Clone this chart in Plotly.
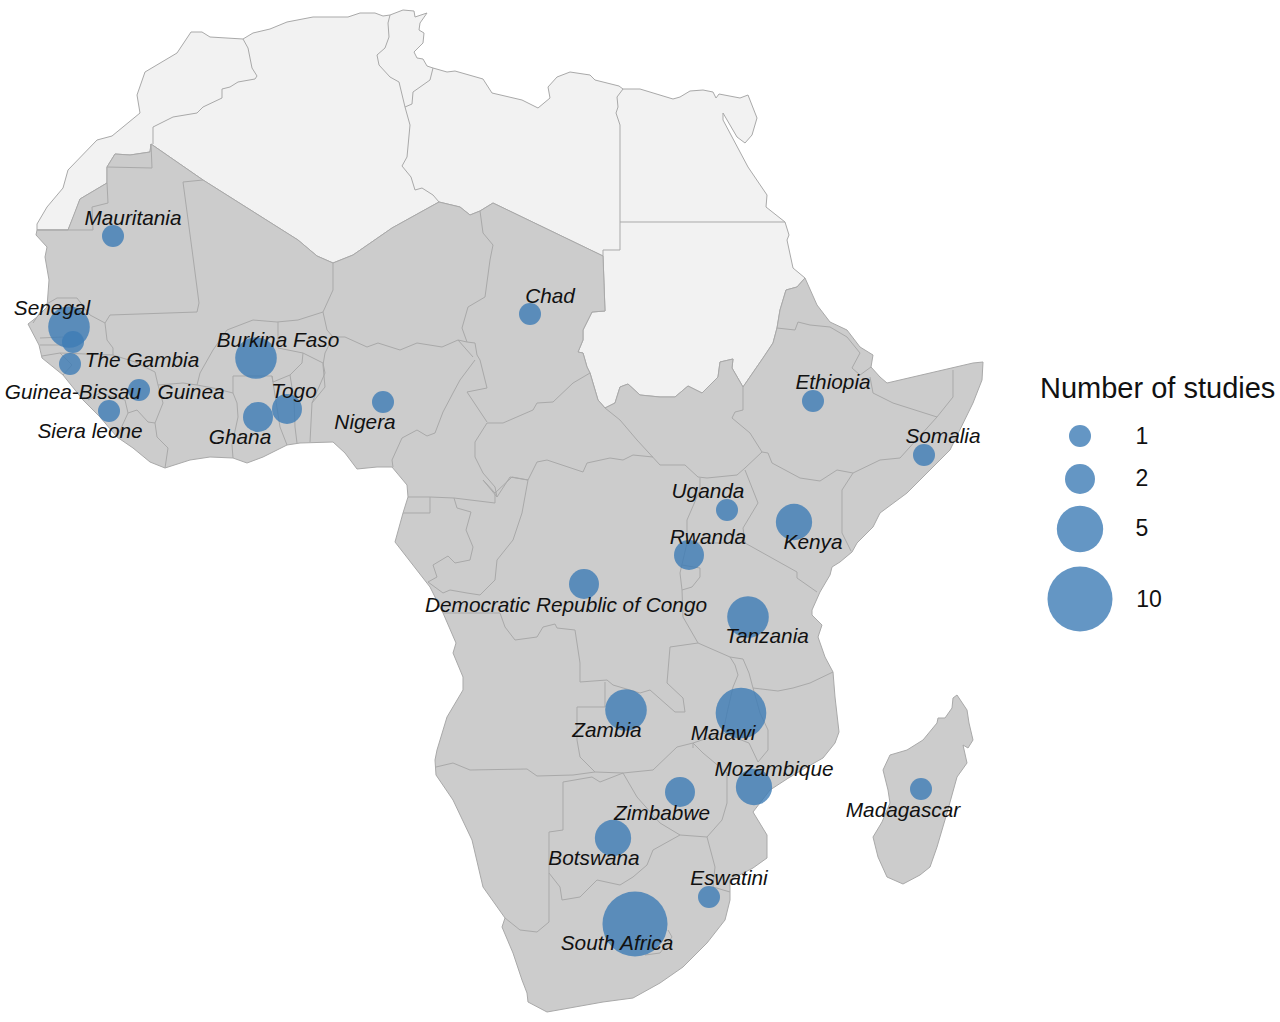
import math
import plotly.graph_objects as go

# === Map outlines (x, y in picture pixels) ===
north_outline = [
    (37, 230), (37, 224), (47, 207), (63, 188), (68, 170), (83, 155), (97, 140), (112, 136), (140, 113), (137, 95),
    (145, 72), (177, 53), (191, 32), (202, 32), (210, 37), (243, 39), (253, 33), (270, 29), (287, 22), (313, 17),
    (340, 17), (348, 17), (360, 13), (375, 13), (383, 16), (390, 15), (403, 10), (414, 11), (415, 17), (427, 13),
    (420, 23), (419, 30), (424, 33), (423, 43), (414, 52), (417, 58), (423, 59), (427, 66), (433, 68), (447, 72),
    (455, 71), (483, 79), (492, 93), (522, 100), (538, 108), (550, 98), (548, 87), (557, 77), (570, 72), (590, 75),
    (595, 80), (619, 86), (623, 89), (640, 89), (673, 99), (680, 97), (690, 91), (703, 90), (713, 92), (716, 98),
    (719, 94), (740, 98), (748, 95), (757, 118), (752, 135), (745, 143), (737, 137), (723, 113), (723, 120),
    (748, 167), (767, 195), (766, 207), (785, 222), (789, 235), (787, 240), (793, 268), (805, 278),
    (797, 287), (786, 290), (780, 310), (777, 328), (773, 343), (763, 358), (748, 380), (743, 387), (732, 368),
    (733, 359), (720, 362), (718, 377), (702, 393), (688, 386), (675, 397), (660, 397), (640, 395), (628, 384),
    (620, 387), (615, 403), (605, 408), (598, 400), (590, 373), (587, 367), (583, 353), (578, 352), (583, 340),
    (583, 330), (592, 312), (605, 311), (603, 256), (493, 203), (480, 211), (470, 215), (460, 207), (439, 202),
    (392, 228), (353, 255), (333, 263), (317, 256), (298, 240), (203, 180), (151, 144), (150, 152), (130, 155),
    (115, 154), (107, 167), (107, 183), (80, 199), (75, 213), (68, 230),
]

south_outline = [
    (805, 278), (817, 305), (830, 322), (847, 330), (860, 347), (873, 355), (871, 367), (880, 377), (887, 383),
    (913, 377), (943, 370), (973, 363), (983, 362), (982, 380), (973, 403), (950, 450), (933, 467), (907, 493),
    (880, 513), (873, 527), (857, 543), (852, 552), (840, 562), (832, 567), (830, 575), (820, 592), (812, 610),
    (812, 615), (822, 625), (818, 637), (825, 657), (833, 672), (835, 697), (839, 732), (835, 743), (823, 758),
    (807, 767), (790, 777), (770, 790), (753, 812), (767, 835), (767, 858), (753, 868), (730, 880), (730, 900),
    (725, 920), (707, 943), (683, 967), (660, 983), (633, 998), (603, 1002), (547, 1012), (528, 1002), (527, 993),
    (522, 980), (513, 953), (502, 927), (505, 918), (483, 887), (472, 840), (453, 800), (436, 775), (435, 760),
    (437, 750), (447, 717), (463, 690), (463, 677), (453, 653), (456, 643), (443, 613), (430, 587), (395, 542),
    (403, 513), (408, 497), (407, 485), (392, 467), (377, 467), (357, 469), (345, 453), (333, 442), (300, 443),
    (287, 445), (263, 457), (247, 463), (233, 458), (210, 457), (190, 460), (165, 468), (150, 462), (133, 448),
    (117, 437), (100, 417), (83, 400), (63, 375), (42, 358), (39, 345), (28, 324), (37, 317), (47, 307), (49, 280),
    (45, 257), (47, 247), (36, 235), (37, 230), (68, 230), (75, 213), (80, 199), (107, 183), (107, 167), (115, 154),
    (130, 155), (150, 152), (151, 144), (203, 180), (298, 240), (317, 256), (333, 263), (353, 255), (392, 228),
    (439, 202), (460, 207), (470, 215), (480, 211), (493, 203), (603, 256), (605, 311), (592, 312), (583, 330),
    (583, 340), (578, 352), (583, 353), (587, 367), (590, 373), (598, 400), (605, 408), (615, 403), (620, 387),
    (628, 384), (640, 395), (660, 397), (675, 397), (688, 386), (702, 393), (718, 377), (720, 362), (733, 359),
    (732, 368), (743, 387), (748, 380), (763, 358), (773, 343), (777, 328), (780, 310), (786, 290), (797, 287),
]

madagascar_outline = [
    (957, 695), (967, 710), (969, 723), (973, 740), (968, 748), (963, 745), (967, 763), (957, 777), (947, 813),
    (937, 847), (930, 867), (920, 875), (903, 884), (887, 877), (878, 857), (873, 837), (882, 822), (890, 803),
    (888, 790), (883, 770), (890, 755), (907, 750), (923, 740), (937, 723), (938, 718), (945, 718), (952, 708),
    (953, 698),
]

# Borders inside the light north
north_borders = [
    [(243, 39), (248, 48), (252, 68), (257, 76), (255, 79), (238, 82), (230, 87), (222, 89), (222, 98), (203, 107),
     (197, 113), (173, 117), (153, 127), (153, 144)],
    [(390, 15), (388, 23), (389, 37), (385, 48), (377, 55), (379, 65), (390, 77), (399, 82), (405, 107), (412, 104),
     (413, 92), (430, 80), (433, 68)],
    [(405, 107), (410, 125), (407, 157), (402, 166), (411, 177), (415, 190), (422, 188), (433, 195), (439, 202)],
    [(623, 89), (617, 97), (618, 107), (616, 113), (620, 125), (620, 250), (603, 250), (603, 256)],
    [(620, 222), (785, 222)],
]

# Borders inside the grey south
south_borders = [
    # Mauritania, Mali, Senegal
    [(107, 167), (152, 168), (151, 144)],
    [(37, 230), (93, 230), (92, 207), (108, 203), (107, 183)],
    [(203, 180), (183, 182), (193, 257), (199, 303), (197, 312), (110, 315), (105, 323), (107, 340), (113, 348),
     (113, 355), (135, 362), (155, 372), (158, 385), (183, 383), (197, 385), (200, 373), (213, 350), (227, 330),
     (253, 320), (277, 322), (298, 320), (323, 312), (333, 290), (333, 263)],
    [(33, 323), (45, 305), (57, 298), (77, 298), (90, 315), (105, 323)],
    [(40, 338), (63, 337)],
    [(40, 345), (63, 345)],
    [(42, 356), (60, 353), (113, 355)],
    [(60, 353), (72, 365), (63, 375)],
    # Guinea, Sierra Leone, Liberia, Cote d'Ivoire
    [(88, 400), (100, 393), (125, 400), (128, 413), (117, 437)],
    [(128, 413), (137, 410), (148, 422), (155, 423), (163, 403), (158, 385)],
    [(155, 423), (157, 437), (168, 448), (165, 468)],
    # Burkina Faso, Ghana, Togo, Benin
    [(197, 385), (213, 388), (233, 393), (233, 376), (272, 376), (273, 382), (290, 375), (302, 363), (303, 353),
     (278, 348), (278, 322)],
    [(233, 393), (237, 403), (238, 417), (232, 445), (233, 458)],
    [(272, 376), (276, 400), (280, 427), (287, 445)],
    [(290, 375), (294, 400), (295, 427), (297, 443)],
    [(303, 353), (323, 363), (325, 373), (312, 403), (310, 442)],
    # Niger, Nigeria
    [(323, 312), (327, 330), (333, 337), (345, 337), (367, 347), (378, 343), (400, 350), (417, 343), (442, 347),
     (458, 340), (473, 357)],
    [(333, 337), (325, 353), (323, 365), (325, 387), (312, 403)],
    [(480, 211), (483, 233), (493, 245), (490, 260), (485, 297), (468, 307), (462, 328), (467, 342), (458, 340)],
    # Cameroon, Chad, CAR
    [(475, 360), (460, 380), (453, 393), (443, 412), (435, 433), (427, 436), (417, 430), (402, 438), (392, 460),
     (393, 467)],
    [(467, 342), (475, 343), (477, 355), (480, 360), (487, 388), (467, 392), (487, 422)],
    [(590, 373), (573, 383), (553, 402), (537, 403), (533, 410), (503, 423), (487, 423), (475, 442), (475, 457),
     (483, 473), (495, 487), (497, 497)],
    [(497, 497), (510, 477), (528, 480), (537, 462), (547, 460), (583, 472), (587, 463), (610, 458), (623, 460),
     (633, 455), (653, 457)],
    [(605, 408), (620, 420), (637, 440), (653, 457), (660, 465), (685, 465), (698, 477), (707, 478), (737, 475),
     (745, 468), (762, 452)],
    # Ethiopia, Eritrea, Djibouti, Somalia, Kenya
    [(743, 387), (743, 410), (735, 412), (732, 418), (750, 433), (762, 452), (768, 453), (772, 463), (800, 478),
     (820, 481), (837, 470), (853, 473), (880, 460), (900, 458), (937, 417), (893, 403), (873, 393), (870, 377)],
    [(777, 328), (795, 330), (798, 322), (810, 325), (830, 327), (847, 337), (860, 353), (852, 368), (860, 375),
     (871, 367)],
    [(937, 417), (953, 397), (953, 370)],
    [(853, 473), (842, 490), (842, 533), (851, 551)],
    # Uganda, Tanzania, Rwanda, Burundi
    [(700, 478), (700, 490), (687, 520), (687, 543), (745, 543), (743, 528), (758, 503), (745, 470)],
    [(745, 543), (797, 572), (797, 578), (817, 592)],
    [(687, 543), (680, 573), (682, 590), (683, 617), (698, 643), (730, 657), (743, 659), (749, 673), (753, 688),
     (778, 691), (793, 688), (810, 683), (833, 672)],
    [(682, 590), (692, 587), (700, 577), (700, 568), (682, 565)],
    # DRC, Congo, Gabon, Angola, Zambia
    [(698, 643), (670, 647), (667, 683), (683, 698), (685, 712), (675, 712), (650, 690), (640, 693), (613, 685),
     (607, 680), (580, 682), (580, 663), (575, 630), (557, 628), (555, 624), (543, 627), (537, 637), (515, 640),
     (505, 627), (500, 613), (443, 613)],
    [(528, 480), (522, 513), (513, 540), (497, 560), (495, 580), (480, 595), (467, 593), (450, 590), (443, 593),
     (428, 582), (437, 577), (433, 565), (448, 556), (455, 563), (470, 560), (473, 547), (466, 530), (471, 512),
     (457, 508), (454, 498), (495, 503), (495, 493), (483, 480), (497, 497)],
    [(495, 493), (512, 477), (528, 480)],
    [(403, 513), (430, 513), (430, 497), (408, 497)],
    [(430, 497), (454, 498)],
    [(605, 682), (605, 707), (577, 707), (577, 740), (580, 757), (595, 772)],
    [(436, 767), (453, 763), (470, 770), (527, 769), (537, 776), (573, 775), (595, 772), (623, 773), (653, 770),
     (677, 747), (693, 743)],
    # Namibia, Botswana, South Africa
    [(623, 773), (600, 782), (592, 777), (563, 782), (563, 830), (549, 832), (549, 922), (537, 932), (520, 930),
     (505, 918)],
    [(623, 773), (637, 797), (660, 823), (680, 835), (707, 837), (722, 820), (727, 803), (727, 773), (703, 753),
     (693, 743), (693, 748)],
    [(680, 835), (653, 850), (647, 865), (633, 877), (620, 885), (597, 880), (580, 897), (562, 900), (560, 887),
     (549, 873)],
    [(707, 837), (715, 867), (713, 887), (730, 892)],
    [(668, 930), (672, 937), (660, 953), (645, 955)],
    # Malawi, Mozambique
    [(730, 657), (735, 665), (738, 675), (733, 687), (727, 713), (723, 733), (749, 743), (758, 762), (768, 750),
     (768, 730), (760, 713), (753, 688)],
    [(693, 743), (723, 733)],
]

# === Study counts ===
countries = ["Mauritania", "Senegal", "The Gambia", "Guinea-Bissau", "Guinea", "Siera leone", "Burkina Faso",
             "Togo", "Ghana", "Nigeria", "Chad", "Ethiopia", "Somalia", "Uganda", "Kenya", "Rwanda", "DRC",
             "Tanzania", "Zambia", "Malawi", "Mozambique", "Zimbabwe", "Botswana", "Eswatini", "South Africa",
             "Madagascar"]
studies = [1, 4, 1, 1, 1, 1, 4, 2, 2, 1, 1, 1, 1, 1, 3, 2, 2, 4, 4, 6, 3, 2, 3, 1, 10, 1]
bubble_x = [113, 69, 73, 70, 139, 109, 256, 287, 258, 383, 530, 813, 924, 727, 794, 689, 584, 748, 626, 741, 754,
            680, 613, 709, 635, 921]
bubble_y = [236, 327, 342, 364, 390, 411, 358, 409, 417, 402, 314, 401, 455, 510, 522, 555, 584, 617, 710, 713,
            787, 792, 838, 897, 924, 789]

labels = ["Mauritania", "Senegal", "The Gambia", "Guinea-Bissau", "Guinea", "Siera leone", "Burkina Faso", "Togo",
          "Ghana", "Nigera", "Chad", "Ethiopia", "Somalia", "Uganda", "Kenya", "Rwanda",
          "Democratic Republic of Congo", "Tanzania", "Zambia", "Malawi", "Mozambique", "Zimbabwe", "Botswana",
          "Eswatini", "South Africa", "Madagascar"]
label_x = [133, 52, 142, 73, 191, 90, 278, 294, 240, 365, 550, 833, 943, 708, 813, 708, 566, 767, 607, 723, 774,
           662, 594, 729, 617, 903]
label_y = [220, 310, 362, 394, 394, 433, 342, 393, 439, 424, 298, 384, 438, 493, 544, 539, 607, 638, 732, 735,
           771, 815, 860, 880, 945, 812]

legend_values = [1, 2, 5, 10]
legend_x = [1080, 1080, 1080, 1080]
legend_y = [436, 479, 529, 599]
legend_text_x = [1142, 1142, 1142, 1149]
legend_text_y = [438, 480, 530, 601]

BUBBLE_COLOR = "rgba(61,124,181,0.8)"
BORDER_COLOR = "#a9a9a9"
LABEL_FONT = "Liberation Sans"


def bubble_size(n):
    # diameter in px, area grows linearly with the count
    return math.sqrt(68 + 416 * n)


def split_xy(points):
    return [p[0] for p in points], [p[1] for p in points]


def borders_xy(lines):
    xs, ys = [], []
    for line in lines:
        lx, ly = split_xy(line)
        xs += lx + [None]
        ys += ly + [None]
    return xs, ys


fig = go.Figure()

# === Land ===
for outline, color in [(north_outline, "#f2f2f2"), (south_outline, "#cccccc"), (madagascar_outline, "#cccccc")]:
    ox, oy = split_xy(outline)
    fig.add_trace(go.Scatter(x=ox + ox[:1], y=oy + oy[:1], mode="lines", fill="toself", fillcolor=color,
                             line=dict(color=BORDER_COLOR, width=1), hoverinfo="skip"))

for lines in [north_borders, south_borders]:
    bx, by = borders_xy(lines)
    fig.add_trace(go.Scatter(x=bx, y=by, mode="lines", line=dict(color=BORDER_COLOR, width=1), hoverinfo="skip"))

# === Bubbles ===
fig.add_trace(go.Scatter(x=bubble_x, y=bubble_y, mode="markers", text=countries,
                         marker=dict(size=[bubble_size(n) for n in studies], color=BUBBLE_COLOR, opacity=1,
                                     line=dict(width=0))))

fig.add_trace(go.Scatter(x=label_x, y=label_y, mode="text", text=labels, hoverinfo="skip",
                         textfont=dict(family=LABEL_FONT, size=20.8, color="#111111", style="italic")))

# === Legend, drawn by hand to keep the circles on the size scale ===
fig.add_trace(go.Scatter(x=legend_x, y=legend_y, mode="markers", hoverinfo="skip",
                         marker=dict(size=[bubble_size(n) for n in legend_values], color=BUBBLE_COLOR, opacity=1,
                                     line=dict(width=0))))
fig.add_trace(go.Scatter(x=legend_text_x, y=legend_text_y, mode="text", text=[str(v) for v in legend_values],
                         hoverinfo="skip", textfont=dict(family=LABEL_FONT, size=23, color="#111111")))
fig.add_annotation(x=1157, y=388, text="Number of studies", showarrow=False,
                   font=dict(family=LABEL_FONT, size=29, color="#111111"))

fig.update_xaxes(range=[0, 1280], visible=False, fixedrange=True)
fig.update_yaxes(range=[1022, 0], visible=False, fixedrange=True)
fig.update_layout(width=1280, height=1022, margin=dict(l=0, r=0, t=0, b=0), showlegend=False,
                  plot_bgcolor="white", paper_bgcolor="white")

fig.write_html("out.html", config={"displayModeBar": False},
               post_script="document.body.style.margin='0';document.body.style.overflow='hidden';")
